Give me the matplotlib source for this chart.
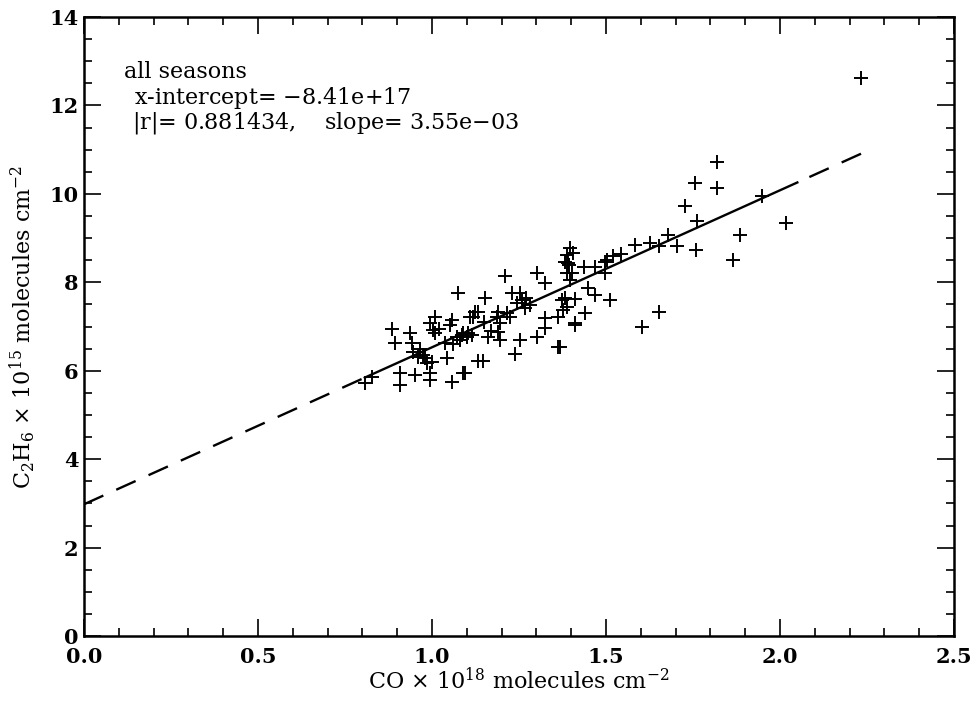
import numpy as np
import matplotlib.pyplot as plt
from matplotlib.ticker import MultipleLocator

# CO (x 1e18) and C2H6 (x 1e15) column amounts
co = [2.233, 1.819, 1.756, 1.819, 1.727, 1.948, 1.761, 1.678, 1.704, 1.759,
      1.885, 1.865, 2.017, 1.603, 1.652, 1.511, 1.626, 1.583, 1.543, 1.503,
      1.497, 1.652, 1.520, 1.497, 1.468, 1.437, 1.397, 1.405, 1.382, 1.390,
      1.402, 1.397, 1.448, 1.468, 1.382, 1.411, 1.376, 1.440, 1.411, 1.368,
      1.388, 1.395, 1.388, 1.210, 1.302, 1.325, 1.152, 1.230, 1.253, 1.258,
      1.244, 1.282, 1.267, 1.374, 1.388, 1.132, 1.118, 1.190, 1.187, 1.195,
      1.224, 1.325, 1.362, 1.325, 1.190, 1.195, 1.161, 1.253, 1.302, 1.411,
      1.362, 1.239, 1.147, 1.095, 1.100, 1.080, 0.885, 0.894, 0.937, 0.943,
      0.945, 1.009, 0.994, 1.003, 1.009, 1.057, 1.052, 1.109, 1.124, 0.980,
      0.986, 1.000, 1.037, 1.043, 1.072, 1.080, 1.089, 0.908, 0.908, 0.828,
      0.807, 0.951, 0.994, 0.994, 1.057, 1.089, 1.132, 1.075, 1.105, 1.060,
      0.965, 0.975, 1.020, 1.115, 1.170, 1.215, 1.270, 1.150, 1.085, 0.960]
c2h6 = [12.62, 10.72, 10.25, 10.14, 9.73, 9.95, 9.39, 9.07, 8.82, 8.73,
        9.07, 8.51, 9.34, 6.99, 7.33, 7.60, 8.89, 8.85, 8.64, 8.51,
        8.21, 8.82, 8.60, 8.46, 8.35, 8.35, 8.78, 8.67, 8.46, 8.44,
        8.21, 8.05, 7.87, 7.71, 7.65, 7.62, 7.38, 7.31, 7.04, 6.54,
        8.62, 8.40, 8.21, 8.14, 8.21, 7.99, 7.65, 7.76, 7.76, 7.60,
        7.53, 7.49, 7.42, 7.60, 7.44, 7.33, 7.22, 7.33, 7.22, 7.08,
        7.22, 7.19, 7.22, 6.97, 6.88, 6.70, 6.76, 6.70, 6.76, 7.08,
        6.54, 6.38, 6.22, 5.95, 6.76, 6.70, 6.95, 6.63, 6.86, 6.63,
        6.43, 7.22, 7.08, 6.92, 6.86, 7.15, 7.04, 7.22, 7.33, 6.29,
        6.18, 6.20, 6.63, 6.29, 6.76, 6.70, 6.86, 5.95, 5.68, 5.86,
        5.72, 5.90, 5.79, 5.95, 5.75, 5.95, 6.22, 7.76, 6.86, 6.60,
        6.50, 6.35, 6.95, 6.80, 6.90, 7.30, 7.65, 7.10, 6.80, 6.30]

# fit line (x in 1e18, y in 1e15)
fit_intercept = 2.98
fit_slope = 3.55
solid_range = [0.807, 2.05]
full_range = [0.0, 2.233]

plt.rcParams['font.family'] = 'DejaVu Serif'
plt.rcParams['mathtext.fontset'] = 'dejavuserif'

fig = plt.figure(figsize=(9.74, 7.06), dpi=100)
ax = fig.add_axes([0.0862, 0.099, 0.8932, 0.877])

ax.plot(co, c2h6, '+', color='black', ms=10, mew=1.4, zorder=3)

xs = np.array(solid_range)
ax.plot(xs, fit_intercept + fit_slope * xs, '-', color='black', lw=1.7)
xl = np.array([full_range[0], solid_range[0]])
ax.plot(xl, fit_intercept + fit_slope * xl, color='black', lw=1.7,
        dashes=(9, 6))
# drawn from the far end so the last dash reaches the end point
xr = np.array([full_range[1], solid_range[1]])
ax.plot(xr, fit_intercept + fit_slope * xr, color='black', lw=1.7,
        dashes=(9, 6))

ax.set_xlim(0, 2.5)
ax.set_ylim(0, 14)
ax.xaxis.set_major_locator(MultipleLocator(0.5))
ax.xaxis.set_minor_locator(MultipleLocator(0.1))
ax.yaxis.set_major_locator(MultipleLocator(2))
ax.yaxis.set_minor_locator(MultipleLocator(0.5))
ax.xaxis.set_major_formatter(plt.FormatStrFormatter('%.1f'))
ax.tick_params(which='both', direction='in', top=True, right=True,
               labelsize=15, width=1.2)
ax.tick_params(axis='x', pad=8)
ax.tick_params(axis='y', pad=4)
ax.tick_params(which='major', length=12)
ax.tick_params(which='minor', length=6)
for lab in ax.get_xticklabels() + ax.get_yticklabels():
    lab.set_fontweight('bold')
for s in ax.spines.values():
    s.set_linewidth(1.8)

ax.set_xlabel(r'CO $\times$ 10$^{18}$ molecules cm$^{-2}$', fontsize=16,
              labelpad=0)
ax.set_ylabel(r'C$_2$H$_6$ $\times$ 10$^{15}$ molecules cm$^{-2}$',
              fontsize=16, labelpad=8)

ax.text(0.046, 0.911, 'all seasons', transform=ax.transAxes,
        fontsize=16, va='center')
ax.text(0.058, 0.869, 'x-intercept= $-$8.41e+17', transform=ax.transAxes,
        fontsize=16, va='center')
ax.text(0.055, 0.829, '|r|= 0.881434,    slope= 3.55e$-$03',
        transform=ax.transAxes, fontsize=16, va='center')

fig.savefig('out.png', dpi=100)
